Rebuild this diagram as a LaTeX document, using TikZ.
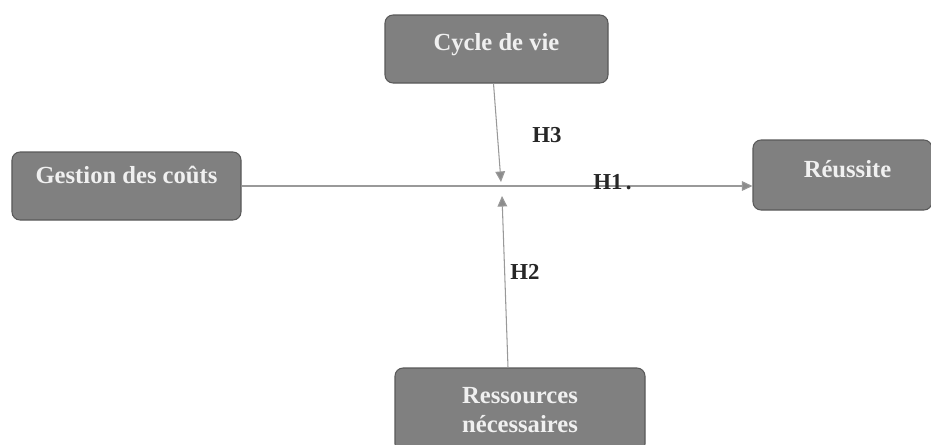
\documentclass[tikz,border=0pt]{standalone}
\usepackage{fontspec}
\setmainfont{Liberation Serif}
\usetikzlibrary{arrows.meta, positioning}

\tikzset{
  varbox/.style={draw=black!65, fill=black!50, rounded corners=0.16cm, line width=0.6pt,
    text=white!94!black, font=\fontsize{14}{16.5}\selectfont\bfseries, align=center,
    inner sep=0pt},
  link/.style={draw=black!40, line width=0.6pt, -{Triangle[length=6pt,width=5.5pt,fill=black!45]}},
  hyp/.style={font=\fontsize{13}{15}\selectfont\bfseries, text=black!85}
}

\begin{document}
\begin{tikzpicture}[>=Latex]
\useasboundingbox (0,0) rectangle (18.62,-8.88);
\node[varbox, minimum width=4.46cm, minimum height=1.36cm, text height=0.3cm, text depth=0.26cm] (cycle) at (9.93,-0.98) {Cycle de vie};
\node[varbox, minimum width=4.58cm, minimum height=1.36cm, text height=0.3cm, text depth=0.42cm] (gestion) at (2.53,-3.72) {Gestion des coûts};
\node[varbox, minimum width=3.58cm, minimum height=1.4cm, text height=0.3cm, text depth=0.2cm] (reussite) at (16.85,-3.5) {\hspace{0.2cm}Réussite};
\node[varbox, minimum width=5.0cm, minimum height=1.68cm] (ressources) at (10.4,-8.2) {Ressources\\nécessaires};
% point de rencontre
\coordinate (hubtop) at (10.02,-3.64);
\coordinate (hubbot) at (10.04,-3.92);
\draw[link] (gestion.east) -- (gestion.east -| reussite.west);
\draw[link] ([xshift=-0.06cm]cycle.south) -- (hubtop);
\draw[link] ([xshift=-0.24cm]ressources.north) -- (hubbot);
\node[hyp] (h3) at (10.94,-2.7) {H3};
\node[hyp] (h1) at (12.25,-3.64) {H1\hspace{2pt}.};
\node[hyp] (h2) at (10.5,-5.44) {H2};
\end{tikzpicture}
\end{document}
